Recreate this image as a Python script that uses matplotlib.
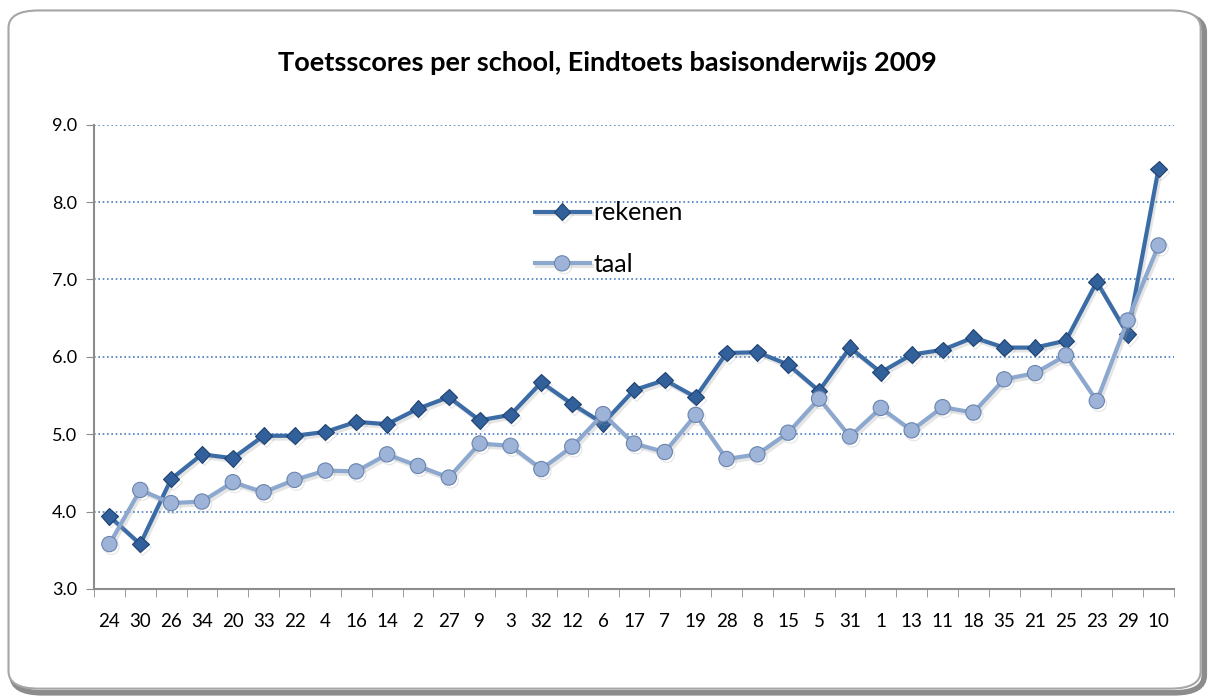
import numpy as np
import matplotlib.pyplot as plt
from matplotlib.patches import FancyBboxPatch
import matplotlib.patheffects as pe

#School numbers, sorted as in the original chart
schools = ['24', '30', '26', '34', '20', '33', '22', '4', '16', '14', '2', '27',
           '9', '3', '32', '12', '6', '17', '7', '19', '28', '8', '15', '5',
           '31', '1', '13', '11', '18', '35', '21', '25', '23', '29', '10']

rekenen = [3.94, 3.58, 4.42, 4.74, 4.69, 4.98, 4.98, 5.03, 5.16, 5.13, 5.33, 5.48,
           5.18, 5.25, 5.67, 5.39, 5.14, 5.57, 5.70, 5.48, 6.05, 6.06, 5.90, 5.56,
           6.12, 5.80, 6.03, 6.09, 6.25, 6.12, 6.12, 6.21, 6.97, 6.29, 8.43]

taal = [3.58, 4.28, 4.11, 4.13, 4.38, 4.25, 4.41, 4.53, 4.52, 4.74, 4.59, 4.44,
        4.88, 4.85, 4.55, 4.84, 5.26, 4.88, 4.77, 5.25, 4.68, 4.74, 5.02, 5.46,
        4.97, 5.34, 5.05, 5.35, 5.28, 5.71, 5.79, 6.02, 5.43, 6.47, 7.44]

plt.rcParams['font.family'] = ['Lato', 'DejaVu Sans']

fig = plt.figure(figsize=(12.14, 6.97), dpi=100)

#Rounded frame round the chart, with a grey shadow (behind the axes)
shadow = FancyBboxPatch((0.010, 0.006), 0.982, 0.973, boxstyle='round,pad=0,rounding_size=0.025',
                        transform=fig.transFigure, facecolor='none', edgecolor='#8c8c8c',
                        linewidth=4, zorder=-2)
frame = FancyBboxPatch((0.007, 0.012), 0.982, 0.973, boxstyle='round,pad=0,rounding_size=0.025',
                       transform=fig.transFigure, facecolor='white', edgecolor='#a6a6a6',
                       linewidth=1.5, zorder=-1)
fig.patches.extend([shadow, frame])

ax = fig.add_axes([0.0774, 0.155, 0.8896, 0.666])
ax.set_facecolor('none')

x = np.arange(len(schools))
shade = [pe.SimpleLineShadow(offset=(1.5, -2), shadow_color='#999999', alpha=0.25), pe.Normal()]

ax.plot(x, rekenen, color='#3C6CA6', linewidth=3, marker='D', markersize=8.5,
        markerfacecolor='#31609A', markeredgecolor='#1F4272', markeredgewidth=0.8,
        label='rekenen', zorder=3, path_effects=shade)
ax.plot(x, taal, color='#8DA8CF', linewidth=3, marker='o', markersize=11,
        markerfacecolor='#9DB3D8', markeredgecolor='#6A84AE', markeredgewidth=0.8,
        label='taal', zorder=4, path_effects=shade)

ax.set_xlim(-0.5, len(schools) - 0.5)
ax.set_ylim(3, 9)
ax.set_yticks(np.arange(3, 9.1, 1))
ax.set_yticklabels(['%.1f' % v for v in np.arange(3, 9.1, 1)])
ax.set_xticks(x)
ax.set_xticklabels(schools)
ax.set_xticks(np.arange(-0.5, len(schools)), minor=True)
ax.tick_params(axis='x', which='major', length=0, pad=17, labelsize=13.5)
ax.tick_params(axis='x', which='minor', length=6, color='#8c8c8c', direction='out')
ax.tick_params(axis='y', length=6, color='#8c8c8c', labelsize=13, pad=6)

for v in range(4, 10):
    ax.axhline(v, color='#4A7EC0', linestyle=(0, (1, 1.6)), linewidth=1.2, zorder=1)

for side in ['top', 'right']:
    ax.spines[side].set_visible(False)
ax.spines['left'].set_color('#8c8c8c')
ax.spines['bottom'].set_color('#8c8c8c')
ax.spines['left'].set_linewidth(1.5)
ax.spines['bottom'].set_linewidth(1.5)

fig.text(0.5, 0.91, 'Toetsscores per school, Eindtoets basisonderwijs 2009',
         ha='center', va='center', fontsize=19.5, fontweight='bold')

ax.legend(loc='upper left', bbox_to_anchor=(0.408, 0.835), frameon=False, fontsize=18,
          handlelength=2.2, handletextpad=0.16, labelspacing=1.15, borderaxespad=0,
          borderpad=0)

fig.savefig('out.png', dpi=100)
